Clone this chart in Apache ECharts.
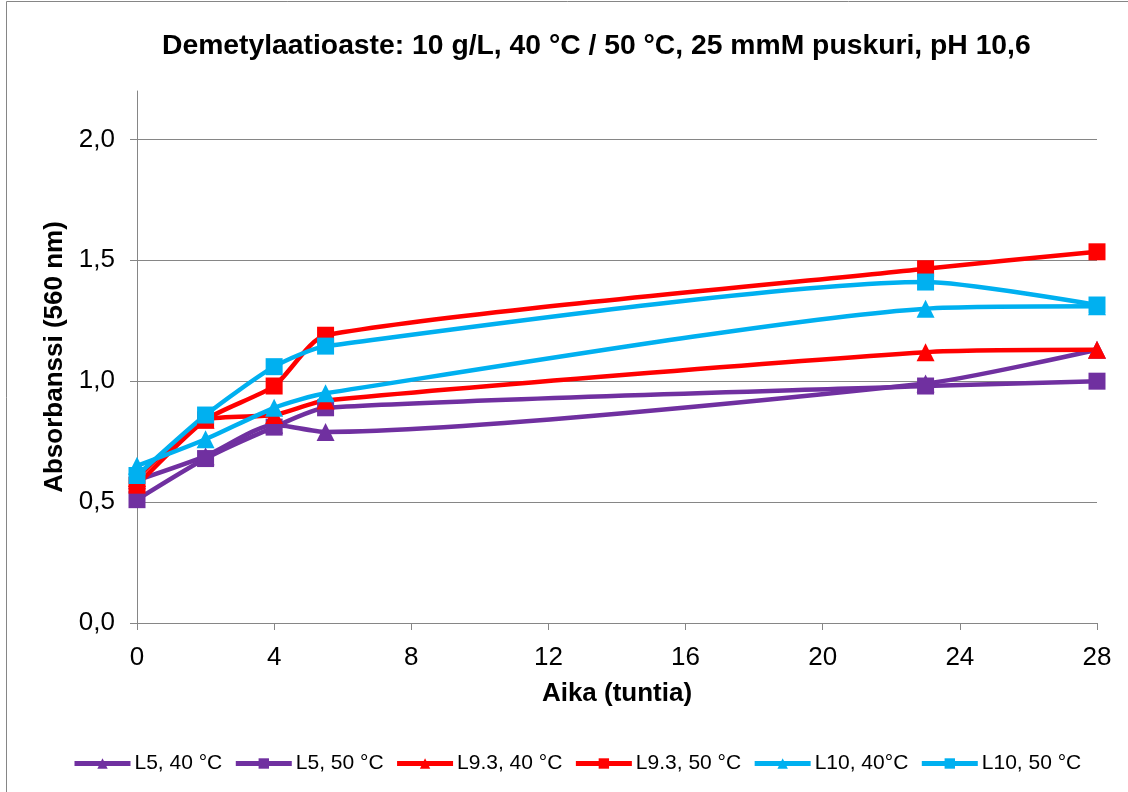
<!DOCTYPE html>
<html>
<head>
<meta charset="utf-8">
<script src="https://cdn.jsdelivr.net/npm/echarts@6/dist/echarts.min.js"></script>
<style>
  html, body { margin: 0; padding: 0; background: #fff; }
  #chart { width: 1128px; height: 792px; }
</style>
</head>
<body>
<div id="chart"></div>
<script>
// Sampling times (hours)
const times = [0, 2, 4, 5.5, 23, 28];

// Absorbance at 560 nm per sample / temperature
const l5_40   = [0.59, 0.69, 0.82, 0.79, 0.99, 1.13];
const l5_50   = [0.51, 0.68, 0.81, 0.89, 0.98, 1.00];
const l93_40  = [0.60, 0.84, 0.86, 0.92, 1.12, 1.13];
const l93_50  = [0.57, 0.84, 0.98, 1.19, 1.465, 1.535];
const l10_40  = [0.65, 0.76, 0.89, 0.95, 1.30, 1.31];
const l10_50  = [0.61, 0.86, 1.06, 1.145, 1.41, 1.315];

const seriesNames = ['L5, 40 °C', 'L5, 50 °C', 'L9.3, 40 °C', 'L9.3, 50 °C', 'L10, 40°C', 'L10, 50 °C'];
const seriesValues = [l5_40, l5_50, l93_40, l93_50, l10_40, l10_50];
const seriesColors = ['#7030A0', '#7030A0', '#FF0000', '#FF0000', '#00B0F0', '#00B0F0'];
const seriesSymbols = ['triangle', 'rect', 'triangle', 'rect', 'triangle', 'rect'];

const FONT = 'Liberation Sans, Arial, sans-serif';

const chart = echarts.init(document.getElementById('chart'), null, { renderer: 'canvas' });

const fmt = v => v.toFixed(1).replace('.', ',');

const series = seriesNames.map((name, i) => ({
  name: name,
  type: 'line',
  smooth: 0.22,
  data: times.map((t, j) => [t, seriesValues[i][j]]),
  symbol: seriesSymbols[i],
  symbolSize: seriesSymbols[i] === 'rect' ? 17 : 18,
  itemStyle: { color: seriesColors[i] },
  lineStyle: { width: 4.5, color: seriesColors[i] },
  emphasis: { disabled: true },
  animation: false
}));

chart.setOption({
  backgroundColor: '#fff',
  animation: false,
  title: {
    text: 'Demetylaatioaste: 10 g/L, 40 °C / 50 °C, 25 mmM puskuri, pH 10,6',
    left: 157,
    top: 27,
    textStyle: { fontFamily: FONT, fontSize: 28.3, fontWeight: 'bold', color: '#000' }
  },
  graphic: [{
    type: 'rect',
    shape: { x: 6.5, y: 1.5, width: 1140, height: 810 },
    style: { fill: 'none', stroke: '#868686', lineWidth: 1 },
    silent: true
  }],
  grid: { left: 137, right: 31, top: 91, bottom: 169 },
  legend: {
    bottom: 13,
    left: 67,
    itemWidth: 56,
    itemHeight: 13,
    itemGap: 11,
    lineStyle: { width: 5 },
    textStyle: { fontFamily: FONT, fontSize: 21, color: '#000', padding: [0, 0, 0, -1] },
    data: seriesNames
  },
  xAxis: {
    type: 'value',
    min: 0,
    max: 28,
    interval: 4,
    name: 'Aika (tuntia)',
    nameLocation: 'middle',
    nameGap: 58,
    nameTextStyle: { fontFamily: FONT, fontSize: 26, fontWeight: 'bold', color: '#000' },
    axisLine: { show: true, onZero: false, lineStyle: { color: '#868686', width: 1 } },
    axisTick: { show: true, inside: false, length: 7, lineStyle: { color: '#868686' } },
    axisLabel: { fontFamily: FONT, fontSize: 26, color: '#000', margin: 22 },
    splitLine: { show: false }
  },
  yAxis: {
    type: 'value',
    min: 0,
    max: 2.2,
    interval: 0.5,
    name: 'Absorbanssi (560 nm)',
    nameLocation: 'middle',
    nameGap: 57,
    nameTextStyle: { fontFamily: FONT, fontSize: 26, fontWeight: 'bold', color: '#000' },
    axisLine: { show: true, lineStyle: { color: '#868686', width: 1 } },
    axisTick: { show: true, inside: false, length: 7, lineStyle: { color: '#868686' } },
    axisLabel: {
      fontFamily: FONT, fontSize: 26, color: '#000', margin: 22,
      showMaxLabel: false,
      formatter: v => (Math.abs(v * 2 - Math.round(v * 2)) < 1e-6 ? fmt(v) : '')
    },
    splitLine: { show: true, showMaxLine: false, lineStyle: { color: '#868686', width: 1 } }
  },
  series: series
});
</script>
</body>
</html>
